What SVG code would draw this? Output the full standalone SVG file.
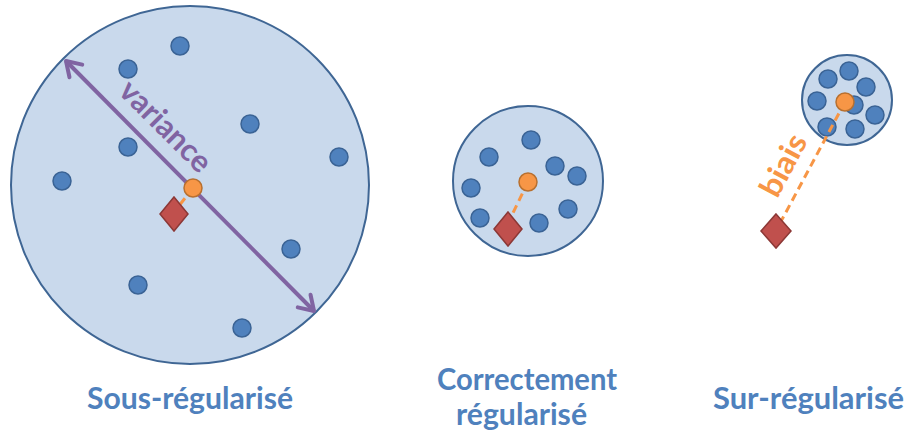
<svg xmlns="http://www.w3.org/2000/svg" width="907" height="439" viewBox="0 0 907 439">
<style>
.cloud{fill:#C9D9EC;stroke:#3F6694;stroke-width:2}
.dot{fill:#4F81BD;stroke:#3A6395;stroke-width:1.5}
.mean{fill:#F79646;stroke:#B8702F;stroke-width:1.5}
.truth{fill:#C0504D;stroke:#8C3836;stroke-width:1.5}
.dash{stroke:#F79646;stroke-width:3;stroke-dasharray:8 5;fill:none}
.lbl{font-family:Lato,"Open Sans","Liberation Sans",sans-serif;font-weight:bold;font-size:31px;fill:#4F81BD}
</style>
<defs>
<marker id="chev" viewBox="-20 -14 24 28" markerWidth="24" markerHeight="28" refX="0" refY="0" orient="auto-start-reverse" markerUnits="userSpaceOnUse">
<path d="M -14,-9 L 0,0 L -14,9" fill="none" stroke="#8064A2" stroke-width="4" stroke-linecap="round" stroke-linejoin="round"/>
</marker>
</defs>

<g id="sous">
<circle class="cloud" cx="190" cy="185" r="179"/>
<circle class="dot" cx="180" cy="46" r="9"/>
<circle class="dot" cx="128" cy="69" r="9"/>
<circle class="dot" cx="250" cy="124" r="9"/>
<circle class="dot" cx="128" cy="147" r="9"/>
<circle class="dot" cx="339" cy="157" r="9"/>
<circle class="dot" cx="62" cy="181" r="9"/>
<circle class="dot" cx="291" cy="249" r="9"/>
<circle class="dot" cx="138" cy="285" r="9"/>
<circle class="dot" cx="242" cy="328" r="9"/>
</g>

<g id="correct">
<circle class="cloud" cx="528" cy="181" r="75"/>
<circle class="dot" cx="531" cy="140" r="9"/>
<circle class="dot" cx="489" cy="157" r="9"/>
<circle class="dot" cx="555" cy="166" r="9"/>
<circle class="dot" cx="577" cy="176" r="9"/>
<circle class="dot" cx="471" cy="188" r="9"/>
<circle class="dot" cx="480" cy="218" r="9"/>
<circle class="dot" cx="568" cy="209" r="9"/>
<circle class="dot" cx="539" cy="223" r="9"/>
</g>

<g id="sur">
<circle class="cloud" cx="847" cy="100" r="45"/>
<circle class="dot" cx="849" cy="71" r="9"/>
<circle class="dot" cx="828" cy="79" r="9"/>
<circle class="dot" cx="866" cy="87" r="9"/>
<circle class="dot" cx="817" cy="101" r="9"/>
<circle class="dot" cx="854" cy="105" r="9"/>
<circle class="dot" cx="875" cy="115" r="9"/>
<circle class="dot" cx="827" cy="127" r="9"/>
<circle class="dot" cx="855" cy="129" r="9"/>
</g>

<g id="connectors">
<line x1="66" y1="61" x2="314" y2="311" stroke="#8064A2" stroke-width="4" marker-start="url(#chev)" marker-end="url(#chev)"/>
<line class="dash" x1="193" y1="188" x2="178" y2="207"/>
<line class="dash" x1="528" y1="182" x2="510" y2="219"/>
<line class="dash" x1="845" y1="102" x2="778" y2="227"/>
</g>

<g id="means">
<polygon class="truth" points="174,197 188,214 174,231 160,214"/>
<circle class="mean" cx="193" cy="188" r="9"/>
<polygon class="truth" points="508,212 522,229 508,246 494,229"/>
<circle class="mean" cx="528" cy="182" r="9"/>
<polygon class="truth" points="776,214 791,231 776,248 761,231"/>
<circle class="mean" cx="845" cy="102" r="9"/>
</g>

<g id="annotations">
<text class="lbl" transform="translate(164,128) rotate(45)" x="0" y="8" text-anchor="middle" textLength="116" lengthAdjust="spacingAndGlyphs" style="fill:#8064A2">variance</text>
<text class="lbl" transform="translate(783,165) rotate(-62)" x="0" y="11" text-anchor="middle" textLength="66" lengthAdjust="spacingAndGlyphs" style="fill:#F79646">biais</text>
</g>

<g id="labels">
<text class="lbl" x="87" y="409" textLength="206" lengthAdjust="spacingAndGlyphs">Sous-régularisé</text>
<text class="lbl" x="437" y="390" textLength="180" lengthAdjust="spacingAndGlyphs">Correctement</text>
<text class="lbl" x="456" y="425" textLength="131" lengthAdjust="spacingAndGlyphs">régularisé</text>
<text class="lbl" x="713" y="409" textLength="191" lengthAdjust="spacingAndGlyphs">Sur-régularisé</text>
</g>
</svg>
